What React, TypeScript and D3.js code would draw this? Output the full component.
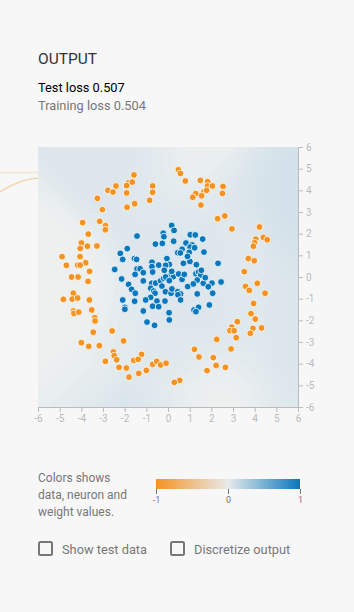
import React from "react";
import * as d3 from "d3";

// data
const orangePoints: [number, number][] = [
  [-1.57, 4.71], [-1.82, 4.35], [-1.65, 4.38], [-2.4, 4.2], [-2.77, 4.0], [-2.54, 3.92], [-1.91, 4.22],
  [-1.91, 3.88], [-0.71, 4.2], [-0.71, 3.91], [-0.85, 3.54], [-3.26, 3.63], [-1.89, 3.22], [-1.54, 3.38],
  [-3.03, 3.11], [-3.94, 2.51], [-3.15, 2.57], [-2.88, 2.37], [-2.89, 2.18], [-3.68, 1.98], [-4.0, 1.57],
  [-4.05, 1.32], [-3.72, 1.42], [-3.28, 1.43], [-4.89, 0.94], [-4.06, 0.94], [-3.8, 0.66], [-4.69, 0.54],
  [-4.17, 0.55], [-4.05, 0.55], [-3.62, 0.26], [-4.45, 0.0], [-4.15, 0.0],
  [-3.69, -0.2], [-4.37, -0.75], [-4.42, -1.02], [-4.17, -0.97], [-4.83, -1.03], [-3.63, -1.06],
  [-4.37, -1.57], [-4.34, -1.68], [-4.12, -1.62], [-3.52, -1.52], [-3.38, -1.88], [-3.37, -2.03],
  [-3.45, -2.55], [-2.58, -2.49], [-4.0, -3.03], [-3.66, -3.2], [-3.17, -3.17], [-2.05, -2.95],
  [-2.52, -3.46], [-2.48, -3.63], [-2.37, -3.82], [-2.89, -3.89], [-1.22, -3.57], [-1.58, -3.85],
  [-1.38, -3.8], [-2.26, -4.17], [-1.92, -4.2], [-1.8, -4.62], [-1.35, -4.45], [-1.0, -4.31],
  [-0.71, -4.03], [-0.52, -3.89], [-0.34, -4.06], [-0.09, -3.98],
  [0.48, 4.95], [0.57, 4.78], [0.8, 4.43], [1.49, 4.46], [1.83, 4.4], [1.82, 4.2], [2.05, 4.2],
  [1.66, 3.94], [1.78, 4.0], [1.28, 3.85], [1.14, 3.68], [1.55, 3.75], [2.54, 4.18], [2.51, 3.86],
  [1.52, 3.32], [2.29, 2.69], [2.62, 2.82], [2.95, 2.22], [4.22, 2.31], [4.05, 1.75], [4.4, 1.83],
  [4.58, 1.72], [4.0, 1.58], [3.94, 1.42], [3.71, 0.85], [3.98, 0.75], [3.52, 0.25],
  [3.58, -0.43], [3.75, -0.62], [4.12, -0.29], [4.48, -0.75], [3.95, -1.22], [3.83, -1.69],
  [4.03, -1.94], [3.2, -2.06], [2.94, -2.31], [2.86, -2.48], [3.05, -2.48], [3.92, -2.37], [3.8, -2.6],
  [4.32, -2.35], [3.15, -2.8], [2.25, -2.88], [2.91, -3.32], [1.22, -3.34], [1.43, -3.69], [2.09, -3.72],
  [2.22, -4.08], [2.65, -4.17], [1.8, -4.32], [0.54, -4.77], [0.29, -4.86],
];

const bluePoints: [number, number][] = [
  [0.17, 2.38], [0.28, 2.15], [-1.43, 1.89], [-0.22, 2.02], [-0.19, 1.86], [1.03, 1.95], [1.26, 1.94],
  [1.6, 1.75], [-0.58, 1.52], [-0.26, 1.55], [0.26, 1.65], [0.83, 1.57], [1.11, 1.48], [1.02, 1.38],
  [1.23, 1.35], [0.65, 1.28], [0.45, 1.12], [0.57, 1.11], [0.98, 1.14], [1.66, 1.15], [-1.88, 1.31],
  [-2.2, 1.09], [-2.09, 0.81], [-1.55, 0.85], [-1.45, 0.81], [-0.05, 0.85], [0.06, 0.58], [-0.11, 0.54],
  [-0.74, 0.68], [-0.74, 0.48], [-0.43, 0.55], [0.71, 0.63], [1.01, 0.72], [1.31, 0.57], [2.31, 0.63],
  [-2.46, 0.35], [-1.43, 0.37], [-1.29, 0.38], [-1.14, 0.2], [-1.52, 0.12], [-0.71, 0.23], [-0.17, 0.31],
  [0.14, 0.09], [0.25, 0.02], [0.17, 0.26], [0.49, 0.14], [0.65, -0.11], [0.75, 0.12], [1.29, 0.15],
  [1.41, 0.23], [1.51, 0.09], [1.54, 0.31], [1.35, -0.14], [1.63, -0.29], [1.72, -0.03], [2.03, -0.28],
  [2.45, -0.23], [-2.14, -0.09], [-1.14, -0.18], [-1.82, -0.34], [-1.68, -0.57], [-0.75, -0.29],
  [-0.57, -0.28], [-0.34, -0.18], [-0.2, -0.06], [-0.11, 0.0], [0.06, -0.17], [-0.8, -0.52],
  [-0.66, -0.65], [-0.6, -0.75], [-0.8, -0.94], [-0.28, -0.42], [-0.12, -0.68], [0.14, -0.75],
  [0.18, -0.55], [0.45, -0.68], [0.58, -0.78], [0.46, -0.82], [0.91, -0.44], [1.17, -0.32], [1.35, -0.78],
  [1.86, -0.45], [2.06, -0.75], [-1.51, -0.75], [-1.03, -1.06], [-0.51, -1.11], [-0.14, -1.11],
  [-2.09, -1.06], [-1.54, -1.12], [-1.99, -1.4], [-1.99, -1.49], [-0.71, -1.35], [-0.43, -1.37],
  [-1.14, -1.57], [0.05, -1.65], [0.06, -1.98], [1.2, -1.52], [1.41, -1.4], [1.29, -1.6], [1.91, -1.29],
  [-0.97, -2.08], [-0.62, -2.23], [0.58, -1.06], [0.9, 0.95],
];

// network output on a coarse grid, rows y = 6 .. -6, columns x = -6 .. 6
const heatRows: number[][] = [
  [0.06, 0.06, 0.06, 0.06, 0.06, 0.05, 0.03, 0.01, 0.01, 0.02, 0.06, 0.08, 0.09],
  [0.04, 0.06, 0.06, 0.06, 0.06, 0.05, 0.03, 0.01, 0.02, 0.04, 0.07, 0.09, 0.09],
  [0.02, 0.04, 0.06, 0.06, 0.06, 0.05, 0.04, 0.03, 0.04, 0.06, 0.08, 0.09, 0.09],
  [0.0, 0.01, 0.04, 0.06, 0.06, 0.05, 0.05, 0.05, 0.05, 0.06, 0.07, 0.09, 0.09],
  [0.0, 0.0, 0.01, 0.04, 0.06, 0.06, 0.06, 0.06, 0.06, 0.05, 0.06, 0.08, 0.09],
  [0.0, 0.0, 0.0, 0.02, 0.05, 0.06, 0.06, 0.06, 0.06, 0.05, 0.05, 0.07, 0.08],
  [0.0, 0.0, 0.0, 0.01, 0.04, 0.06, 0.06, 0.06, 0.06, 0.05, 0.05, 0.06, 0.07],
  [0.0, 0.0, 0.0, 0.01, 0.04, 0.06, 0.06, 0.06, 0.06, 0.05, 0.05, 0.06, 0.07],
  [0.0, 0.0, 0.0, 0.02, 0.04, 0.05, 0.06, 0.06, 0.06, 0.05, 0.05, 0.06, 0.07],
  [0.0, 0.0, 0.01, 0.03, 0.04, 0.05, 0.05, 0.05, 0.05, 0.05, 0.05, 0.06, 0.07],
  [0.0, 0.01, 0.02, 0.03, 0.04, 0.05, 0.05, 0.04, 0.03, 0.03, 0.04, 0.06, 0.07],
  [0.01, 0.02, 0.03, 0.04, 0.06, 0.05, 0.04, 0.02, 0.01, 0.01, 0.03, 0.05, 0.06],
  [0.02, 0.03, 0.04, 0.06, 0.07, 0.06, 0.04, 0.02, 0.0, 0.0, 0.02, 0.04, 0.06],
];

const axisTicks = [-6, -5, -4, -3, -2, -1, 0, 1, 2, 3, 4, 5, 6];
const legendTicks = [-1, 0, 1];
const testLoss = "0.507";
const trainLoss = "0.504";
const legendLines = ["Colors shows", "data, neuron and", "weight values."];
const checkboxLabels = ["Show test data", "Discretize output"];

const font = "Roboto, 'Helvetica Neue', Helvetica, Arial, sans-serif";

export default function App() {
  const xAxisRef = React.useRef<SVGGElement>(null);
  const yAxisRef = React.useRef<SVGGElement>(null);
  const legAxisRef = React.useRef<SVGGElement>(null);

  const plot = { left: 38, top: 147, size: 260 };
  const xScale = d3.scaleLinear().domain([-6, 6]).range([plot.left, plot.left + plot.size]);
  const yScale = d3.scaleLinear().domain([-6, 6]).range([plot.top + plot.size, plot.top]);
  const heatColor = d3.scaleLinear<string>().domain([-0.75, 0, 0.75]).range(["#f59322", "#eef0f0", "#0877bd"]).clamp(true);

  const n = heatRows.length;
  const cell = plot.size / (n - 1);
  const contours = d3
    .contours()
    .size([n, n])
    .thresholds(d3.range(0, 0.1, 0.005))(heatRows.flat());
  const geo = d3.geoPath(
    d3.geoIdentity().scale(cell).translate([plot.left - cell / 2, plot.top - cell / 2]) as any
  );

  const legScale = d3.scaleLinear().domain([-1, 1]).range([156, 300]);
  const fmt = (d: any) => String(d);

  React.useEffect(() => {
    const styleAxis = (g: any, color: string, fs: number) => {
      g.selectAll("path").attr("stroke", color);
      g.selectAll("line").attr("stroke", color);
      g.selectAll("text").attr("fill", color).style("font-family", font).style("font-size", fs + "px");
    };
    const gx = d3.select(xAxisRef.current);
    gx.selectAll("*").remove();
    gx.call(d3.axisBottom(xScale).tickValues(axisTicks).tickFormat(fmt).tickSize(5).tickSizeOuter(0) as any);
    styleAxis(gx, "#bbb", 10);

    const gy = d3.select(yAxisRef.current);
    gy.selectAll("*").remove();
    gy.call(d3.axisRight(yScale).tickValues(axisTicks).tickFormat(fmt).tickSize(5).tickSizeOuter(0) as any);
    styleAxis(gy, "#bbb", 10);

    const gl = d3.select(legAxisRef.current);
    gl.selectAll("*").remove();
    gl.call(d3.axisBottom(legScale).tickValues(legendTicks).tickFormat(fmt).tickSize(5).tickSizeOuter(0) as any);
    gl.select(".domain").remove();
    styleAxis(gl, "#777", 9);
  }, []);

  return (
    <svg width={354} height={612} style={{ position: "absolute", left: 0, top: 0, fontFamily: font }}>
      <defs>
        <clipPath id="plotClip">
          <rect x={plot.left} y={plot.top} width={plot.size} height={plot.size} />
        </clipPath>
        <linearGradient id="legGrad" x1="0" x2="1" y1="0" y2="0">
          <stop offset="0%" stopColor="#f59322" />
          <stop offset="50%" stopColor="#e8eaeb" />
          <stop offset="100%" stopColor="#0877bd" />
        </linearGradient>
      </defs>
      <rect width={354} height={612} fill="#f7f7f7" />

      {/* links leaking in from the network column */}
      <line x1={0} x2={plot.left} y1={172.5} y2={172.5} stroke="#f3e7d8" strokeWidth={2} />
      <path d="M0,192 C12,184 24,179 38,178" fill="none" stroke="#f4d3ac" strokeWidth={1.5} />

      <text x={38} y={64} fontSize={15.5} fill="#333">OUTPUT</text>
      <text x={38} y={92} fontSize={12.8} fill="#000">{"Test loss " + testLoss}</text>
      <text x={38} y={110} fontSize={12.8} fill="#777">{"Training loss " + trainLoss}</text>

      <g clipPath="url(#plotClip)">
        <rect x={plot.left} y={plot.top} width={plot.size} height={plot.size} fill={heatColor(0)} />
        {contours.map((c, i) => (
          <path key={i} d={geo(c as any) || ""} fill={heatColor(c.value)} />
        ))}
      </g>

      <g ref={xAxisRef} transform={`translate(0,${plot.top + plot.size})`} />
      <g ref={yAxisRef} transform={`translate(${plot.left + plot.size},0)`} />

      <g>
        {orangePoints.map((d, i) => (
          <circle key={"o" + i} cx={xScale(d[0])} cy={yScale(d[1])} r={3.4} fill="#f59322" stroke="#fff" strokeWidth={0.8} />
        ))}
        {bluePoints.map((d, i) => (
          <circle key={"b" + i} cx={xScale(d[0])} cy={yScale(d[1])} r={3.4} fill="#0877bd" stroke="#fff" strokeWidth={0.8} />
        ))}
      </g>

      {legendLines.map((t, i) => (
        <text key={t} x={38} y={482 + i * 17} fontSize={12} fill="#777">{t}</text>
      ))}
      <rect x={156} y={479} width={144} height={10} fill="url(#legGrad)" />
      <g ref={legAxisRef} transform="translate(0,489)" />

      {checkboxLabels.map((t, i) => {
        const x0 = i === 0 ? 38 : 170;
        return (
          <g key={t}>
            <rect x={x0 + 1} y={542} width={13} height={13} rx={1.5} fill="none" stroke="#777" strokeWidth={2} />
            <text x={x0 + 24} y={554} fontSize={12.8} fill="#777">{t}</text>
          </g>
        );
      })}
    </svg>
  );
}
